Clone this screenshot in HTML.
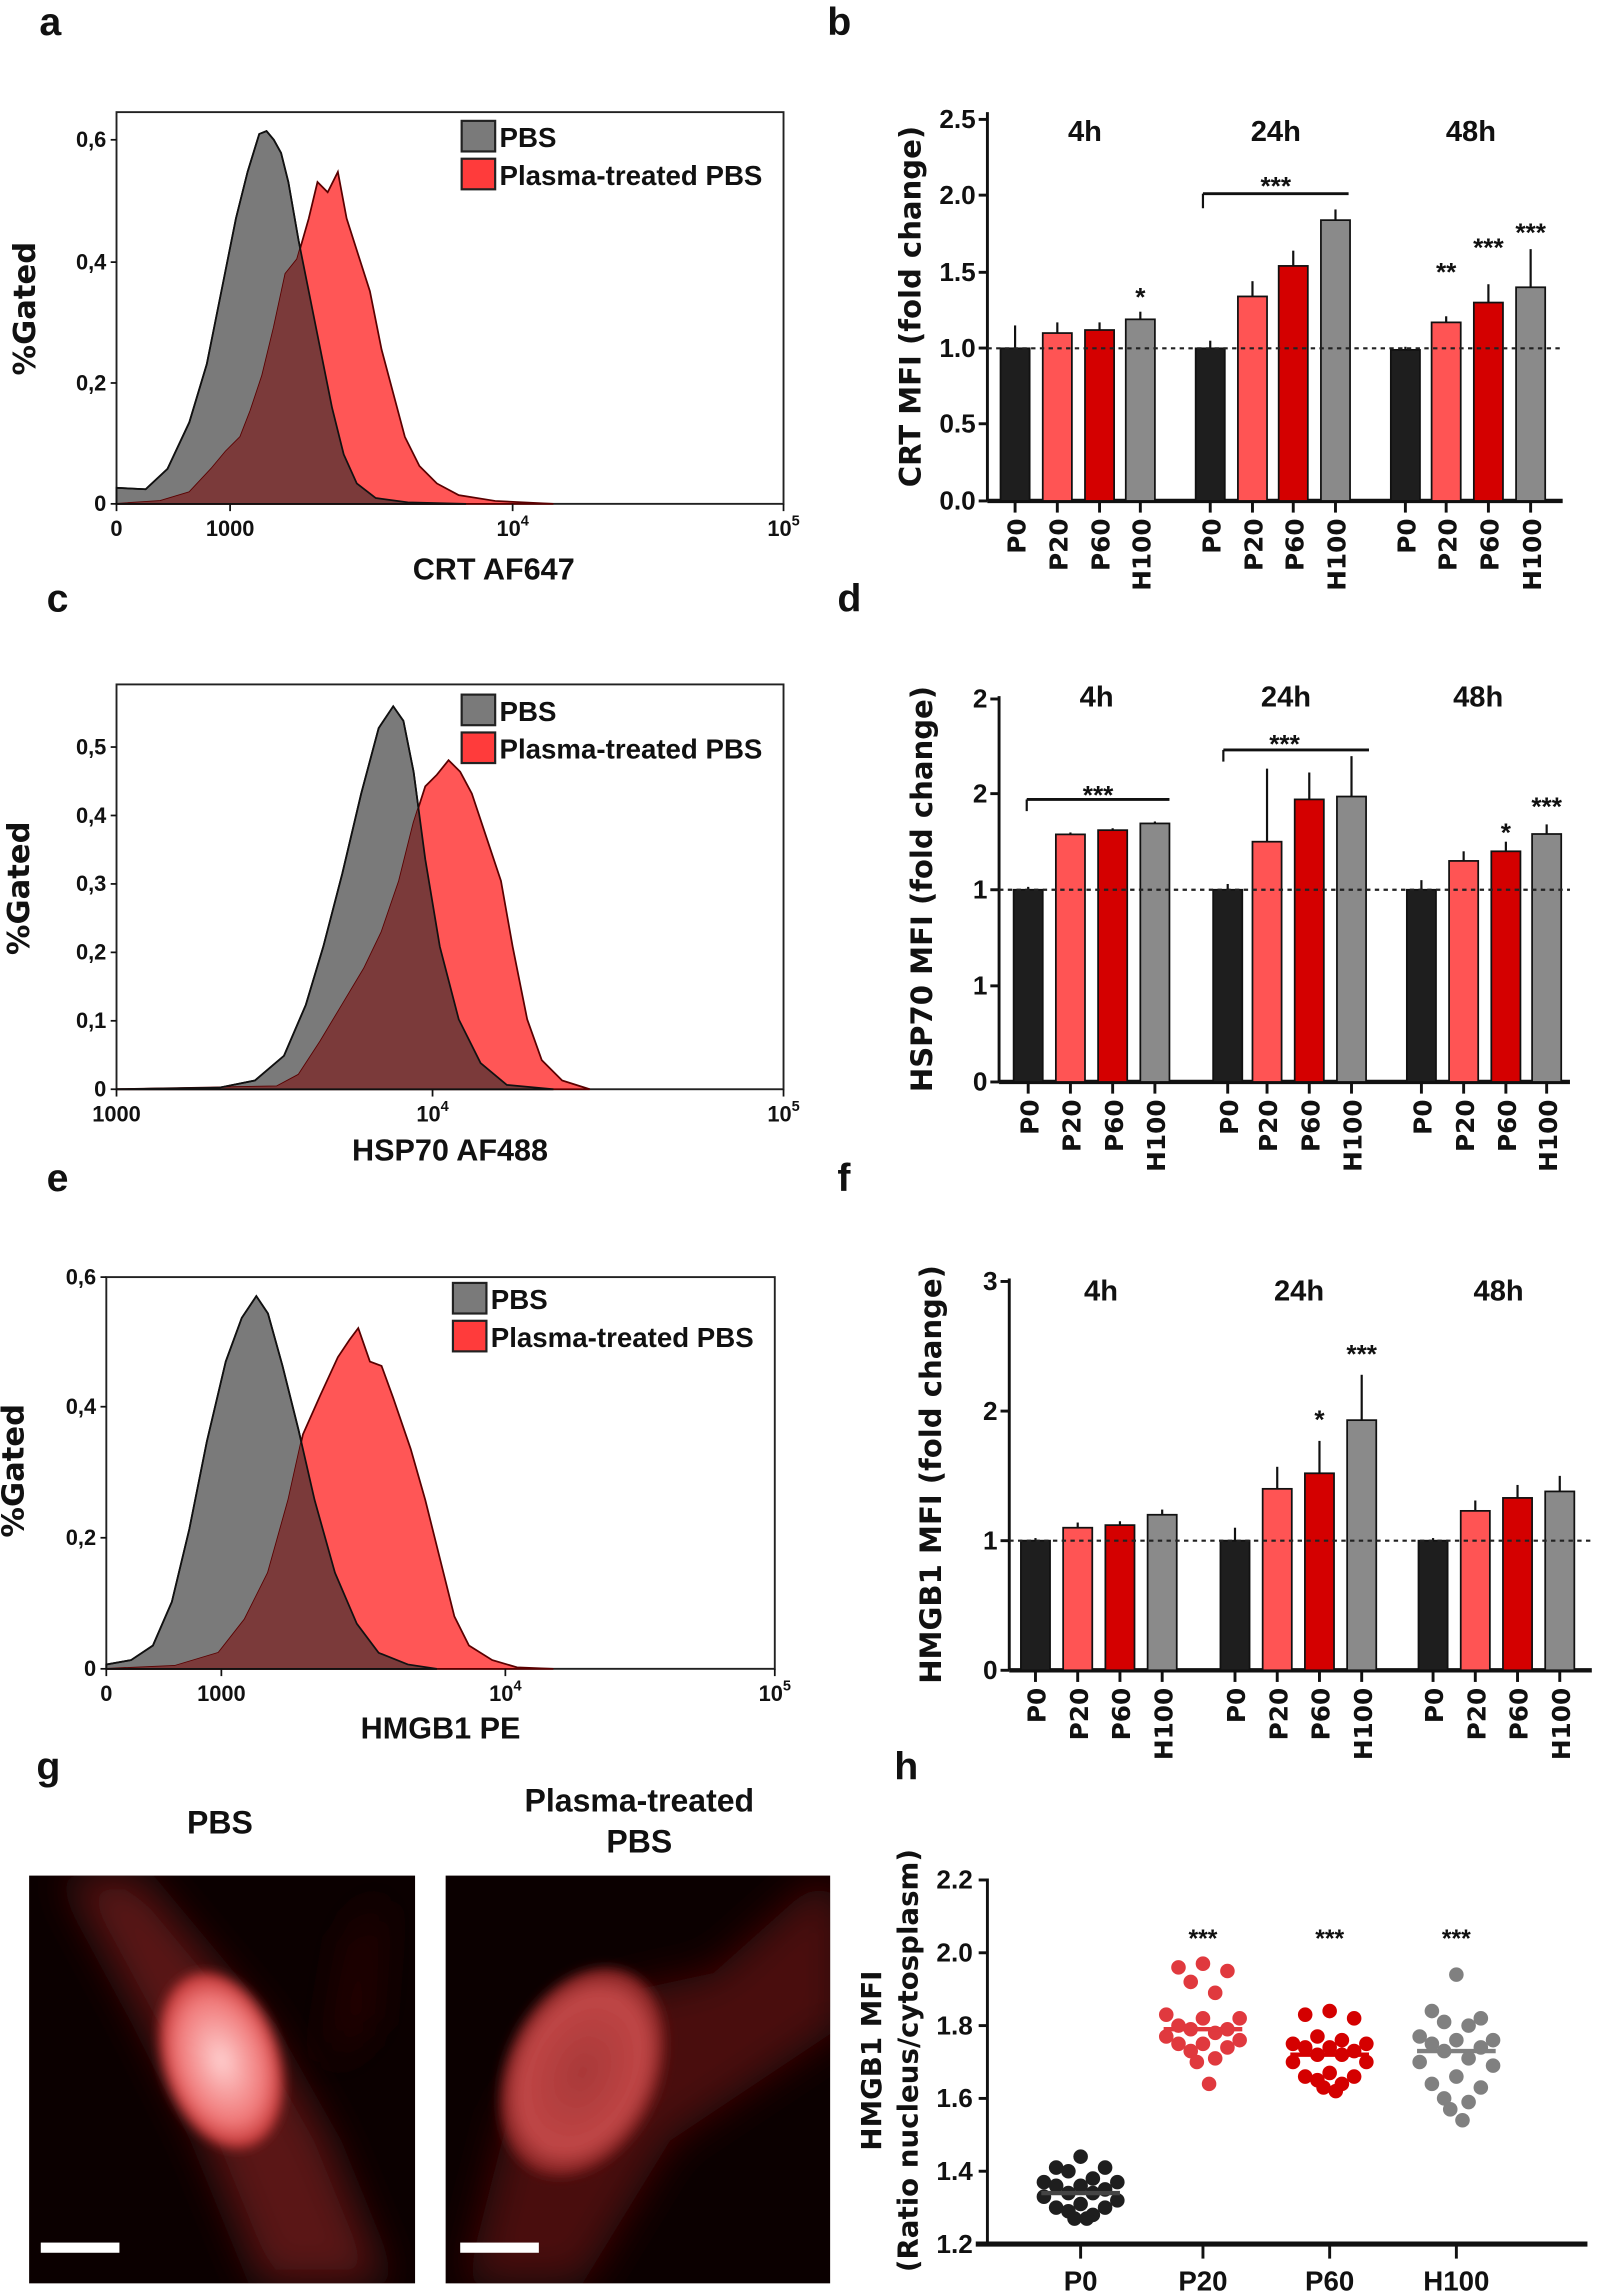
<!DOCTYPE html>
<html><head><meta charset="utf-8"><style>
html,body{margin:0;padding:0;background:#fff}
svg{display:block}
text{font-family:"Liberation Sans",sans-serif;font-weight:bold;fill:#111}
.w{font-family:"DejaVu Sans",sans-serif;font-weight:bold}
</style></head><body>
<svg id="s" width="1602" height="2295" viewBox="0 0 1100 1576" preserveAspectRatio="none" xmlns="http://www.w3.org/2000/svg">
<defs>
<filter id="bl" x="-50%" y="-50%" width="200%" height="200%"><feGaussianBlur stdDeviation="14"/></filter>
<filter id="bl2" x="-50%" y="-50%" width="200%" height="200%"><feGaussianBlur stdDeviation="4"/></filter>
<radialGradient id="nucA"><stop offset="0" stop-color="#ffd0d0"/><stop offset="0.7" stop-color="#f07878"/><stop offset="1" stop-color="#c03030"/></radialGradient>
<radialGradient id="nucB"><stop offset="0" stop-color="#a83838"/><stop offset="0.75" stop-color="#c04646"/><stop offset="1" stop-color="#7a1c1c"/></radialGradient>
<clipPath id="imA"><rect x="20" y="1288" width="265" height="280"/></clipPath>
<clipPath id="imB"><rect x="306" y="1288" width="264" height="280"/></clipPath>
</defs>
<g id="root"></g>
<g font-size="27">
<text x="27" y="24">a</text><text x="568" y="24">b</text>
<text x="32" y="420">c</text><text x="575" y="420">d</text>
<text x="32" y="818">e</text><text x="575" y="818">f</text>
<text x="25" y="1222">g</text><text x="614" y="1222">h</text>
</g>
<g font-size="22" text-anchor="middle">
<text x="151" y="1259">PBS</text>
<text x="439" y="1244">Plasma-treated</text>
<text x="439" y="1272">PBS</text>
</g>
<rect x="20" y="1288" width="265" height="280" fill="#0b0000"/>
<g clip-path="url(#imA)">
<path d="M45,1288 L95,1288 L180,1390 L225,1470 L265,1568 L180,1568 L140,1470 L100,1390 Z" fill="#5a1212" filter="url(#bl)"/>
<path d="M240,1330 L262,1300 L255,1390 L225,1420 Z" fill="#2a0606" filter="url(#bl)"/>
<ellipse cx="152" cy="1415" rx="40" ry="62" transform="rotate(-18 152 1415)" fill="url(#nucA)" filter="url(#bl2)"/>
</g>
<rect x="28" y="1540" width="54" height="7" fill="#fff"/>
<rect x="306" y="1288" width="264" height="280" fill="#0b0000"/>
<g clip-path="url(#imB)">
<path d="M580,1310 L565,1288 L490,1355 L420,1370 L350,1450 L320,1568 L400,1568 L460,1470 L580,1390 Z" fill="#4a1010" filter="url(#bl)"/>
<ellipse cx="400" cy="1423" rx="52" ry="75" transform="rotate(25 400 1423)" fill="url(#nucB)" filter="url(#bl2)"/>
</g>
<rect x="316" y="1540" width="54" height="7" fill="#fff"/>
</svg>
<script>
const NS="http://www.w3.org/2000/svg",R=document.getElementById('root');
function el(t,a,txt){const e=document.createElementNS(NS,t);for(const k in a)e.setAttribute(k,a[k]);if(txt!==undefined)e.textContent=txt;R.appendChild(e);return e;}
function line(x1,y1,x2,y2,w,c,d){const a={x1,y1,x2,y2,stroke:c||'#111','stroke-width':w||1.5};if(d)a['stroke-dasharray']=d;el('line',a);}
function txt(x,y,s,fs,anc,extra){const a={x,y,'font-size':fs,'text-anchor':anc||'middle'};Object.assign(a,extra||{});return el('text',a,s);}
function pth(pts){return 'M'+pts.map(p=>p.join(',')).join(' L')+' Z';}
let cid=0;
function hist(box,gray,red,yt,xt,xlab,legY){
  const [x0,y0,x1,y1]=box;
  el('rect',{x:x0,y:y0,width:x1-x0,height:y1-y0,fill:'none',stroke:'#222','stroke-width':1.3});
  const gp=pth(gray),rp=pth(red);
  el('path',{d:gp,fill:'#7a7a7a',stroke:'#111','stroke-width':1.2});
  el('path',{d:rp,fill:'#ff5656',stroke:'#5a0000','stroke-width':1.2});
  const id='c'+(cid++);
  const cp=document.createElementNS(NS,'clipPath');cp.setAttribute('id',id);
  const p=document.createElementNS(NS,'path');p.setAttribute('d',rp);cp.appendChild(p);R.appendChild(cp);
  el('path',{d:gp,fill:'#7b3a3a','clip-path':'url(#'+id+')'});
  el('path',{d:gp,fill:'none',stroke:'#111','stroke-width':1.2});
  yt.forEach(([v,y])=>{line(x0-4,y,x0,y,1.2);txt(x0-7,y+5,v,15,'end');});
  xt.forEach(([v,x,sup])=>{line(x,y1,x,y1+5,1.2);const t=txt(x,y1+22,v,15);if(sup){const ts=document.createElementNS(NS,'tspan');ts.setAttribute('dy','-7');ts.setAttribute('font-size','10');ts.textContent=sup;t.appendChild(ts);}});
  txt((x0+x1)/2+(xlab[2]||0),xlab[1],xlab[0],21);
  el('rect',{x:legY[0],y:legY[1],width:23,height:21,fill:'#7a7a7a',stroke:'#222','stroke-width':1.5});
  el('rect',{x:legY[0],y:legY[1]+26,width:23,height:21,fill:'#ff3b3b',stroke:'#222','stroke-width':1.5});
  txt(legY[0]+26,legY[1]+18,'PBS',19,'start');
  txt(legY[0]+26,legY[1]+44,'Plasma-treated PBS',19,'start');
}
hist([80,77,538,346],
[[80,346],[80,335],[100,336],[115,322],[130,290],[142,250],[152,200],[162,150],[170,118],[178,92],[183,90],[188,96],[193,105],[198,125],[205,165],[212,200],[220,240],[228,280],[236,312],[245,332],[258,342],[280,345],[320,346]],
[[80,346],[110,344],[130,338],[145,322],[155,310],[165,300],[172,282],[180,258],[188,225],[196,188],[204,178],[212,150],[218,125],[225,132],[232,118],[238,150],[246,175],[254,200],[262,240],[270,270],[278,300],[288,320],[300,332],[315,340],[340,344],[380,346]],
[['0,6',96],['0,4',180],['0,2',263],['0',346]],
[['0',80],['1000',158],['10',352,'4'],['10',538,'5']],
['CRT AF647',398,30],[317,83]);
txt(24,212,'%Gated',21,'middle',{class:'w',transform:'rotate(-90 24 212)'});
hist([80,470,538,748],
[[80,748],[150,747],[175,742],[195,725],[210,690],[222,650],[235,600],[248,545],[260,500],[270,485],[277,495],[284,530],[292,590],[302,650],[315,700],[330,730],[348,745],[380,748]],
[[80,748],[190,746],[205,738],[220,715],[235,690],[250,665],[262,640],[274,605],[284,565],[292,540],[300,532],[308,522],[316,530],[324,545],[334,575],[344,605],[352,650],[362,700],[372,728],[386,742],[405,748]],
[['0,5',513],['0,4',560],['0,3',607],['0,2',654],['0,1',701],['0',748]],
[['1000',80],['10',297,'4'],['10',538,'5']],
['HSP70 AF488',797,0],[317,477]);
txt(20,610,'%Gated',21,'middle',{class:'w',transform:'rotate(-90 20 610)'});
hist([73,877,532,1146],
[[73,1146],[73,1143],[90,1140],[105,1130],[118,1100],[130,1050],[142,990],[155,935],[166,905],[176,890],[184,902],[194,938],[205,982],[216,1030],[230,1080],[245,1115],[260,1135],[280,1143],[300,1146]],
[[73,1146],[120,1144],[150,1135],[168,1112],[184,1080],[198,1030],[208,985],[220,958],[232,932],[240,920],[246,912],[254,935],[262,938],[270,960],[282,995],[292,1030],[302,1070],[312,1110],[322,1130],[338,1140],[355,1145],[380,1146]],
[['0,6',877],['0,4',966],['0,2',1056],['0',1146]],
[['0',73],['1000',152],['10',347,'4'],['10',532,'5']],
['HMGB1 PE',1194,0],[311,881]);
txt(16,1010,'%Gated',21,'middle',{class:'w',transform:'rotate(-90 16 1010)'});
const cols=['#1e1e1e','#ff5454','#d40000','#8a8a8a'],names=['P0','P20','P60','H100'];
function bars(ax,yTop,yBase,xEnd,unit,one,xs,vals,errs,yt,glab,ylab,ylx){
  line(ax,yTop,ax,yBase,2);line(ax,yBase,xEnd,yBase,3);
  yt.forEach(([v,y])=>{line(ax-6,y,ax,y,2);txt(ax-8,y+6,v,18,'end');});
  xs.forEach((x,i)=>{const v=vals[i],e=errs[i];const top=yBase-v*unit;
    line(x,top,x,top-e*unit,1.5);
    el('rect',{x:x-10,y:top,width:20,height:v*unit,fill:cols[i%4],stroke:'#111','stroke-width':1.2});
    line(x,yBase,x,yBase+8,2);
    txt(x+7,yBase+12,names[i%4],17,'end',{class:'w',transform:`rotate(-90 ${x+7} ${yBase+12})`});
  });
  line(ax,yBase-unit*one,xEnd,yBase-unit*one,1.5,'#222','3,3');
  glab.forEach(([s,x,y])=>txt(x,y,s,20));
  txt(ylx,(yTop+yBase)/2,ylab,20,'middle',{class:'w',transform:`rotate(-90 ${ylx} ${(yTop+yBase)/2})`});
}
bars(678,77,344,1073,104.8,1,[697,726,755,783,831,860,888,917,965,993,1022,1051],
[1,1.1,1.12,1.19,1,1.34,1.54,1.84,0.99,1.17,1.3,1.4],[0.15,0.07,0.05,0.05,0.05,0.1,0.1,0.07,0.02,0.04,0.12,0.25],
[['2.5',82],['2.0',134],['1.5',187],['1.0',239],['0.5',291],['0.0',344]],[['4h',745,97],['24h',876,97],['48h',1010,97]],'CRT MFI (fold change)',632);
line(826,143,826,133,1.5);line(826,133,926,133,2);
txt(876,134,'***',18);txt(783,210,'*',18);txt(993,193,'**',18);txt(1022,176,'***',18);txt(1051,166,'***',18);
bars(686,478,743,1078,132,1,[706,735,764,793,843,870,899,928,976,1005,1034,1062],
[1,1.288,1.31,1.345,1,1.25,1.47,1.485,1,1.15,1.2,1.29],[0.015,0.01,0.01,0.01,0.03,0.38,0.14,0.21,0.05,0.05,0.05,0.05],
[['2',480],['2',545],['1',611],['1',677],['0',743]],[['4h',753,485],['24h',883,485],['48h',1015,485]],'HSP70 MFI (fold change)',640);
line(705,557,705,549,1.5);line(705,549,803,549,2);txt(754,552,'***',18);
line(840,523,840,515,1.5);line(840,515,940,515,2);txt(882,517,'***',18);
txt(1034,578,'*',18);txt(1062,560,'***',18);
bars(693,878,1147,1093,89,1,[711,740,769,798,848,877,906,935,984,1013,1042,1071],
[1,1.1,1.12,1.2,1,1.4,1.52,1.93,1,1.23,1.33,1.38],[0.02,0.04,0.03,0.04,0.1,0.17,0.25,0.35,0.02,0.08,0.1,0.12],
[['3',880],['2',969],['1',1058],['0',1147]],[['4h',756,893],['24h',892,893],['48h',1029,893]],'HMGB1 MFI (fold change)',646);
txt(906,981,'*',18);txt(935,936,'***',18);
line(678,1290,678,1541,2);line(670,1541,1090,1541,3.5);
[['2.2',1291],['2.0',1341],['1.8',1391],['1.6',1441],['1.4',1491],['1.2',1541]].forEach(([v,y])=>{line(672,y,678,y,2);txt(668,y+6,v,18,'end');});
txt(605,1415,'HMGB1 MFI',19,'middle',{class:'w',transform:'rotate(-90 605 1415)'});
txt(630,1415,'(Ratio nucleus/cytosplasm)',19,'middle',{class:'w',transform:'rotate(-90 630 1415)'});
const gx=[742,826,913,1000],hc=['#1e1e1e','#e0393e','#d40000','#808080'],med=[1.34,1.79,1.72,1.73];
const data=[
[1.44,1.41,1.41,1.40,1.38,1.37,1.37,1.36,1.36,1.35,1.34,1.34,1.33,1.32,1.31,1.30,1.30,1.29,1.28,1.27,1.27],
[1.97,1.96,1.95,1.92,1.89,1.83,1.82,1.82,1.80,1.79,1.79,1.78,1.77,1.76,1.75,1.75,1.74,1.73,1.71,1.70,1.64],
[1.84,1.83,1.82,1.77,1.76,1.75,1.75,1.74,1.74,1.73,1.72,1.72,1.70,1.70,1.67,1.66,1.66,1.65,1.64,1.63,1.62],
[1.94,1.84,1.82,1.81,1.80,1.77,1.76,1.76,1.75,1.74,1.73,1.71,1.70,1.69,1.66,1.64,1.63,1.60,1.59,1.57,1.54]];
const off=[0,-16,16,-8,8,-24,24,0,-16,16,-8,8,-24,24,0,-16,16,-8,8,-4,4];
data.forEach((arr,g)=>{arr.forEach((v,i)=>el('circle',{cx:gx[g]+off[i]*1.05,cy:1541-(v-1.2)*250,r:5,fill:hc[g]}));
  line(gx[g]-27,1541-(med[g]-1.2)*250,gx[g]+27,1541-(med[g]-1.2)*250,3,hc[g]==='#1e1e1e'?'#444':hc[g]);
  line(gx[g],1541,gx[g],1551,2);txt(gx[g],1573,['P0','P20','P60','H100'][g],19);
  if(g>0)txt(gx[g],1337,'***',17);
});
</script>
</body></html>
